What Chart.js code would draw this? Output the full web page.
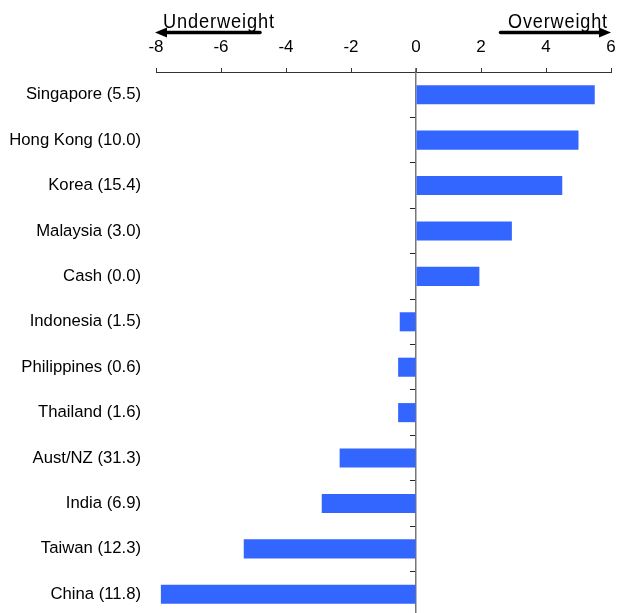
<!DOCTYPE html>
<html>
<head>
<meta charset="utf-8">
<script src="https://cdn.jsdelivr.net/npm/chart.js@4/dist/chart.umd.min.js"></script>
<style>
  html, body { margin: 0; padding: 0; background: #fff; overflow: hidden; }
  canvas { display: block; }
</style>
</head>
<body>
<canvas id="myChart1" width="624" height="617"></canvas>
<script>
const ctx = document.getElementById('myChart1');

// markets with benchmark weight in brackets, active position in % points
const markets = [
  'Singapore (5.5)', 'Hong Kong (10.0)', 'Korea (15.4)', 'Malaysia (3.0)',
  'Cash (0.0)', 'Indonesia (1.5)', 'Philippines (0.6)', 'Thailand (1.6)',
  'Aust/NZ (31.3)', 'India (6.9)', 'Taiwan (12.3)', 'China (11.8)'
];
const positions = [5.5, 5.0, 4.5, 2.95, 1.95, -0.5, -0.55, -0.55, -2.35, -2.9, -5.3, -7.85];
const xTicks = [-8, -6, -4, -2, 0, 2, 4, 6];
const leftTag = 'Underweight';
const rightTag = 'Overweight';

// draws the two headline arrows above the axis
const arrowTags = {
  id: 'arrowTags',
  afterDraw(chart) {
    const c = chart.ctx;
    const x = chart.scales.x;
    const y = 32.5;
    const x0 = x.getPixelForValue(xTicks[0]) - 1;
    const x1 = x.getPixelForValue(xTicks[xTicks.length - 1]);

    function arrow(from, to) {
      const dir = Math.sign(to - from);
      c.save();
      c.strokeStyle = '#000';
      c.fillStyle = '#000';
      c.lineWidth = 3.5;
      c.lineCap = 'round';
      c.beginPath();
      c.moveTo(from, y);
      c.lineTo(to - dir * 8, y);
      c.stroke();
      c.beginPath();
      c.moveTo(to, y);
      c.lineTo(to - dir * 12, y - 5);
      c.lineTo(to - dir * 12, y + 5);
      c.closePath();
      c.fill();
      c.restore();
    }
    arrow(x.getPixelForValue(-4.8), x0);
    arrow(x.getPixelForValue(2.6), x1);

    // condensed headline text, squeezed horizontally to a set width
    function tag(text, left, width) {
      c.save();
      c.fillStyle = '#000';
      c.font = '21px "Liberation Sans", Arial, sans-serif';
      c.letterSpacing = '1px';
      c.textBaseline = 'alphabetic';
      c.textAlign = 'left';
      const w = c.measureText(text).width;
      c.translate(left, 28);
      c.scale(width / w, 1);
      c.fillText(text, 0, 0);
      c.restore();
    }
    tag(leftTag, x0 + 8, 112);
    tag(rightTag, x1 - 103, 100);

    // zero line pokes a little above the top axis
    const zx = x.getPixelForValue(0);
    c.save();
    c.strokeStyle = '#555';
    c.lineWidth = 1.5;
    c.beginPath();
    c.moveTo(zx, chart.chartArea.top - 4);
    c.lineTo(zx, chart.chartArea.top);
    c.stroke();
    c.restore();
  }
};

// keep category axes from reserving extra room above/below the plot
function noVerticalPadding(scale) {
  scale.paddingTop = 0;
  scale.paddingBottom = 0;
}

new Chart(ctx, {
  type: 'bar',
  data: {
    labels: markets,
    datasets: [{
      data: positions,
      backgroundColor: '#3366ff',
      borderWidth: 0,
      barPercentage: 0.42,
      categoryPercentage: 1
    }]
  },
  plugins: [arrowTags],
  options: {
    responsive: false,
    animation: false,
    indexAxis: 'y',
    layout: { padding: { left: 0, right: 13, top: 0, bottom: 0 } },
    plugins: {
      legend: { display: false },
      tooltip: { enabled: false }
    },
    scales: {
      x: {
        position: 'top',
        min: -8,
        max: 6,
        afterBuildTicks: scale => { scale.ticks = xTicks.map(v => ({ value: v })); },
        afterFit: scale => {
          scale.height = 72;
          scale.paddingLeft = 0;
          scale.paddingRight = 0;
        },
        grid: { drawOnChartArea: false, drawTicks: true, tickLength: 4, color: '#333' },
        border: { display: true, color: '#333', width: 1 },
        ticks: {
          padding: 10,
          color: '#000',
          font: { family: '"Liberation Sans", Arial, sans-serif', size: 17 }
        }
      },
      y: {
        position: 'left',
        afterFit: scale => { scale.width = 156; noVerticalPadding(scale); },
        grid: { display: false, drawTicks: false },
        border: { display: false },
        ticks: {
          padding: 15,
          color: '#000',
          font: { family: '"Liberation Sans", Arial, sans-serif', size: 16.7 }
        }
      },
      // zero line with small marks between the markets
      yZero: {
        type: 'category',
        position: { x: 0 },
        offset: true,
        afterFit: noVerticalPadding,
        grid: { offset: true, drawOnChartArea: false, drawTicks: true, tickLength: 5, color: '#222' },
        border: { display: true, color: '#777', width: 1.5 },
        ticks: { display: false }
      }
    }
  }
});
</script>
</body>
</html>
